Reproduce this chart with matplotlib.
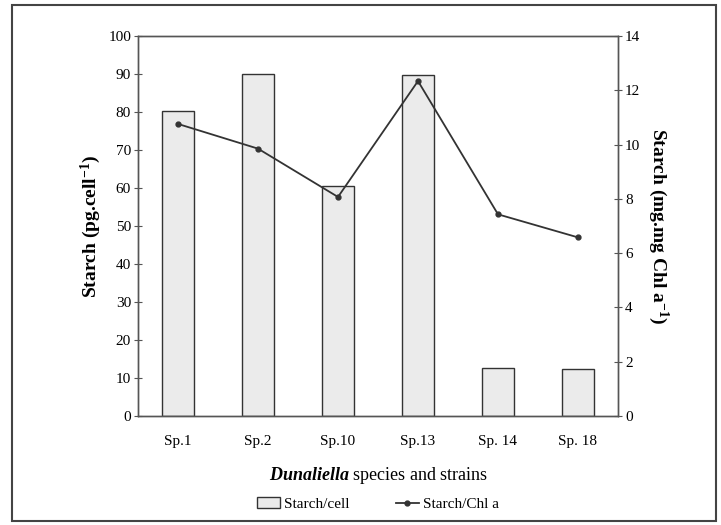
import matplotlib.pyplot as plt
from matplotlib.patches import Rectangle
import numpy as np

# Данные
strains = ['Sp.1', 'Sp.2', 'Sp.10', 'Sp.13', 'Sp. 14', 'Sp. 18']
starch_cell = [80.3, 90.0, 60.4, 89.8, 12.6, 12.5]      # pg/cell
starch_chl = [10.76, 9.85, 8.07, 12.34, 7.43, 6.58]     # mg/mg Chl a

plt.rcParams['font.family'] = ['Liberation Serif', 'DejaVu Serif']
plt.rcParams['mathtext.fontset'] = 'custom'
plt.rcParams['mathtext.rm'] = 'Liberation Serif'
plt.rcParams['mathtext.it'] = 'Liberation Serif:italic'
plt.rcParams['mathtext.bf'] = 'Liberation Serif:bold'
plt.rcParams['mathtext.bfit'] = 'Liberation Serif:bold:italic'

fig = plt.figure(figsize=(7.21, 5.25), dpi=100)
ax = fig.add_axes([138 / 721, 109 / 525, 480 / 721, 380 / 525])
ax2 = ax.twinx()

x = np.arange(len(strains))
bars = ax.bar(x, starch_cell, width=0.41, color='#ebebeb', edgecolor='#333333',
              linewidth=1.0, label='Starch/cell', zorder=2)
ln, = ax2.plot(x, starch_chl, color='#333333', marker='o', markersize=3.5,
               linewidth=1.3, label='Starch/Chl a')

ax.set_xlim(-0.5, len(strains) - 0.5)
ax.set_ylim(0, 100)
ax.set_yticks(range(0, 101, 10))
ax2.set_ylim(0, 14)
ax2.set_yticks(range(0, 15, 2))

ax.set_xticks(x)
ax.set_xticklabels(strains, fontsize=11)
ax.tick_params(axis='x', length=0, pad=14)
ax.tick_params(axis='y', direction='inout', length=6, labelsize=11, pad=2,
               color='#555555')
ax2.tick_params(axis='y', direction='inout', length=6, labelsize=11, pad=2,
                color='#555555')

for a in (ax, ax2):
    for s in a.spines.values():
        s.set_color('#555555')
        s.set_linewidth(1.0)

ax.set_ylabel(r'Starch (pg.cell$^{\mathbf{-1}}$)', fontsize=14,
              fontweight='bold', labelpad=4)
ax2.set_ylabel(r'Starch (mg.mg Chl a$^{\mathbf{-1}}$)', fontsize=14,
               fontweight='bold', rotation=270, labelpad=22)

fig.text(0.5 * (138 + 618) / 721, 1 - 475 / 525,
         r'$\mathbfit{Dunaliella}$ species and strains', ha='center',
         va='center', fontsize=13)

fig.legend([bars, ln], ['Starch/cell', 'Starch/Chl a'], loc='center',
           bbox_to_anchor=(0.5 * (138 + 618) / 721, 1 - 504 / 525), ncol=2,
           frameon=False, fontsize=11, handlelength=1.5, columnspacing=3,
           handletextpad=0.3)

# Рамка вокруг всего рисунка
fig.patches.append(Rectangle((12 / 721, 4 / 525), 704 / 721, 516 / 525,
                             transform=fig.transFigure, fill=False,
                             edgecolor='#444444', linewidth=1.5))

fig.savefig('out.png', dpi=100)
